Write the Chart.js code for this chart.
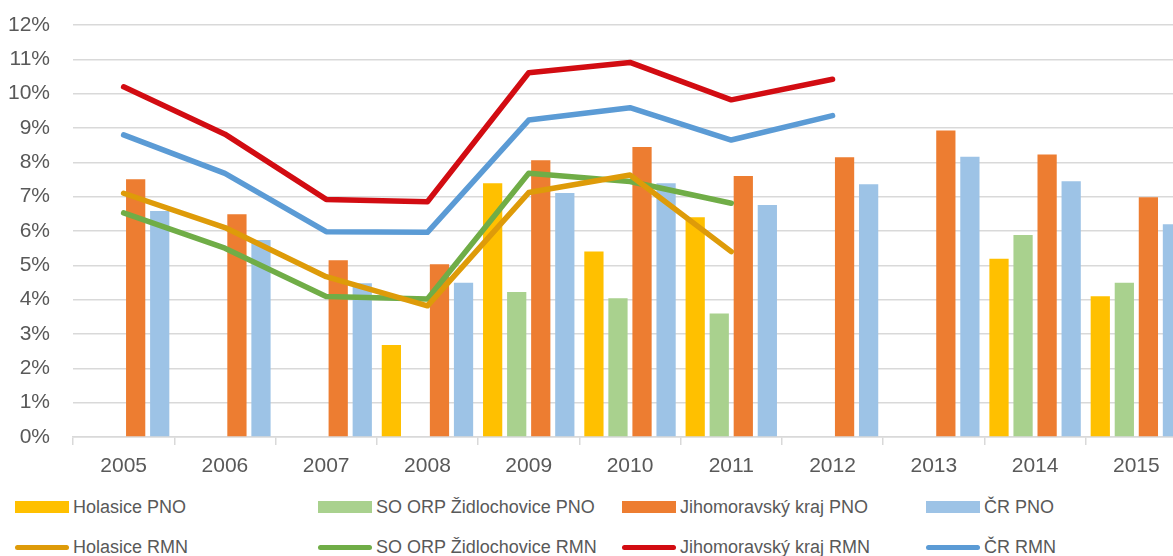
<!DOCTYPE html>
<html lang="cs">
<head>
<meta charset="UTF-8">
<title>PNO a RMN</title>
<script src="https://cdn.jsdelivr.net/npm/chart.js"></script>
<style>
  html, body {
    margin: 0;
    padding: 0;
    background: #ffffff;
    overflow: hidden;
    width: 1173px;
    height: 556px;
    font-family: 'Liberation Sans', Arial, sans-serif;
  }
  #wrap {
    position: absolute;
    left: 0;
    top: 0;
    width: 1190px;
    height: 485px;
  }
  #legend {
    position: absolute;
    left: 0;
    top: 488px;
    width: 1173px;
  }
  .item {
    position: absolute;
    display: flex;
    align-items: center;
    font-size: 18px;
    color: #595959;
    white-space: nowrap;
    height: 24px;
  }
  .sw {
    width: 54px;
    margin-right: 4px;
  }
</style>
</head>
<body>
<div id="wrap"><canvas id="chart" width="1190" height="485"></canvas></div>
<div id="legend"></div>

<script>
// roky
const years = ['2005', '2006', '2007', '2008', '2009', '2010', '2011', '2012', '2013', '2014', '2015'];

// podíl nezaměstnaných osob (PNO), v %
const holasicePNO = [null, null, null, 2.68, 7.39, 5.40, 6.40, null, null, 5.19, 4.10];
const zidlochovicePNO = [null, null, null, null, 4.22, 4.04, 3.60, null, null, 5.88, 4.49];
const jmkPNO = [7.51, 6.49, 5.15, 5.03, 8.06, 8.45, 7.60, 8.15, 8.93, 8.23, 6.98];
const crPNO = [6.58, 5.74, 4.48, 4.49, 7.11, 7.39, 6.76, 7.36, 8.16, 7.45, 6.20];

// míra nezaměstnanosti (RMN), v %
const holasiceRMN = [7.10, 6.10, 4.67, 3.82, 7.12, 7.63, 5.40, null, null, null, null];
const zidlochoviceRMN = [6.53, 5.50, 4.09, 4.02, 7.68, 7.44, 6.81, null, null, null, null];
const jmkRMN = [10.20, 8.82, 6.92, 6.85, 10.61, 10.91, 9.82, 10.42, null, null, null];
const crRMN = [8.80, 7.68, 5.98, 5.96, 9.23, 9.59, 8.65, 9.36, null, null, null];

const yTicks = [0, 1, 2, 3, 4, 5, 6, 7, 8, 9, 10, 11, 12];

const textColor = '#595959';
const gridColor = '#d9d9d9';

function bar(label, data, color) {
  return { type: 'bar', label: label, data: data, backgroundColor: color, borderWidth: 0, order: 2 };
}

function line(label, data, color) {
  return {
    type: 'line', label: label, data: data,
    borderColor: color, backgroundColor: color,
    borderWidth: 5.5, pointRadius: 0, tension: 0,
    borderCapStyle: 'round', borderJoinStyle: 'round',
    spanGaps: false, order: 1
  };
}

const datasets = [
  bar('Holasice PNO', holasicePNO, '#ffc000'),
  bar('SO ORP Židlochovice PNO', zidlochovicePNO, '#a9d18e'),
  bar('Jihomoravský kraj PNO', jmkPNO, '#ed7d31'),
  bar('ČR PNO', crPNO, '#9dc3e6'),
  line('Holasice RMN', holasiceRMN, '#de9b09'),
  line('SO ORP Židlochovice RMN', zidlochoviceRMN, '#70ad47'),
  line('Jihomoravský kraj RMN', jmkRMN, '#d20c12'),
  line('ČR RMN', crRMN, '#5b9bd5')
];

const chart = new Chart(document.getElementById('chart').getContext('2d'), {
  type: 'bar',
  data: { labels: years, datasets: datasets },
  options: {
    responsive: false,
    animation: false,
    devicePixelRatio: 1,
    layout: { padding: { top: 25, right: 3, left: 0, bottom: 0 } },
    datasets: {
      bar: { categoryPercentage: 0.95, barPercentage: 0.8 }
    },
    plugins: {
      legend: { display: false },
      tooltip: { enabled: false }
    },
    scales: {
      x: {
        grid: {
          offset: true,
          drawOnChartArea: false,
          drawTicks: true,
          tickLength: 8,
          color: gridColor,
          lineWidth: 1.5
        },
        border: { display: true, color: gridColor, width: 1.5 },
        ticks: {
          color: textColor,
          padding: 9,
          font: { family: "'Liberation Sans', Arial, sans-serif", size: 21 },
          maxRotation: 0
        },
        afterFit: function (scale) { scale.height = 48; }
      },
      y: {
        min: 0,
        max: 12,
        afterBuildTicks: function (scale) {
          scale.ticks = yTicks.map(v => ({ value: v }));
        },
        grid: {
          color: gridColor,
          lineWidth: 1.5,
          drawTicks: true,
          tickLength: 23,
          tickColor: 'rgba(0,0,0,0)'
        },
        border: { display: false },
        ticks: {
          color: textColor,
          padding: 0,
          font: { family: "'Liberation Sans', Arial, sans-serif", size: 21 },
          callback: v => v + '%'
        },
        afterFit: function (scale) { scale.width = 73; }
      }
    }
  }
});

// legenda ve dvou řádcích, čtyři sloupce
const legend = document.getElementById('legend');
const colX = [15, 318, 622, 926];
const rowY = [7, 47];
chart.data.datasets.forEach((ds, i) => {
  const item = document.createElement('div');
  item.className = 'item';
  item.style.left = colX[i % 4] + 'px';
  item.style.top = rowY[Math.floor(i / 4)] + 'px';
  const sw = document.createElement('span');
  sw.className = 'sw';
  if (ds.type === 'bar') {
    sw.style.height = '12px';
    sw.style.background = ds.backgroundColor;
  } else {
    sw.style.height = '5px';
    sw.style.borderRadius = '3px';
    sw.style.background = ds.borderColor;
  }
  const txt = document.createElement('span');
  txt.textContent = ds.label;
  item.appendChild(sw);
  item.appendChild(txt);
  legend.appendChild(item);
});
</script>
</body>
</html>
